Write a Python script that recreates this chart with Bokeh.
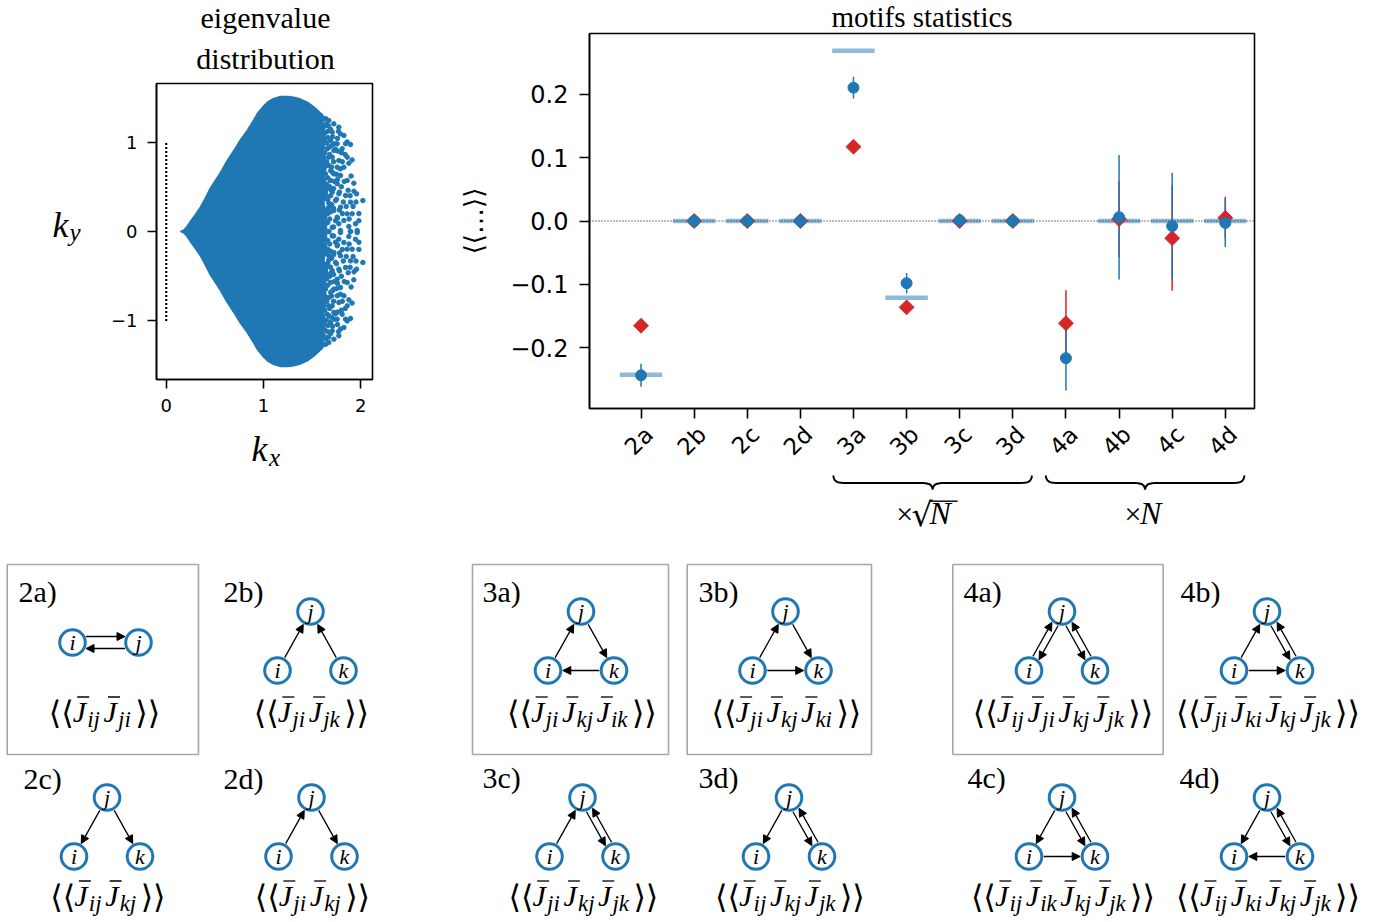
import math
import numpy as np
from bokeh.plotting import figure
from bokeh.models import (Range1d, FixedTicker, CustomJSTickFormatter, LinearAxis,
                          Arrow, NormalHead, ColumnDataSource)
from bokeh.embed import file_html
from bokeh.resources import INLINE
from bokeh.core.properties import value

BLUE = "#1f77b4"
RED = "#d62728"
LIGHT = "#8fbbd9"
GREY = "#a8a8a8"
SERIF = "Liberation Serif"
SANS = "DejaVu Sans"

# ---------------------------------------------------------------- eigenvalue data
# upper boundary of the dense part of the spectrum (lower half = complex conjugates)
envelope_x = [0.147, 0.175, 0.21, 0.25, 0.30, 0.353, 0.40, 0.456, 0.51, 0.558, 0.62, 0.695,
              0.76, 0.833, 0.89, 0.935, 0.99, 1.04, 1.10, 1.175, 1.25, 1.31, 1.38, 1.45,
              1.52, 1.58, 1.62, 1.60, 1.64, 1.61, 1.65, 1.62, 1.66, 1.62, 1.65, 1.63, 1.64]
envelope_y = [0.0, 0.012, 0.05, 0.115, 0.19, 0.275, 0.37, 0.49, 0.58, 0.66, 0.78, 0.905,
              1.02, 1.13, 1.23, 1.315, 1.39, 1.445, 1.485, 1.51, 1.51, 1.50, 1.48, 1.445,
              1.39, 1.33, 1.28, 1.15, 1.02, 0.88, 0.74, 0.60, 0.46, 0.32, 0.18, 0.06, 0.0]
# isolated eigenvalues in the sparse right part (upper half-plane)
sparse_x = [1.586, 1.671, 1.723, 1.774, 1.637, 1.706, 1.791, 1.551, 1.826, 1.517,
            1.603, 1.689, 1.757, 1.843, 1.894, 1.569, 1.654, 1.723, 1.808, 1.534,
            1.620, 1.706, 1.774, 1.860, 1.877, 1.586, 1.671, 1.757, 1.826, 1.551,
            1.637, 1.723, 1.791, 1.689, 1.860, 1.928, 1.586, 1.757, 1.534, 1.620,
            1.706, 1.774, 1.843, 1.956, 2.021, 1.654, 1.740, 1.894, 1.586, 1.671,
            1.723, 1.791, 1.860, 1.620, 1.911, 1.757, 1.826, 1.551, 1.637, 1.706,
            1.774, 1.877, 1.945, 1.963, 1.671, 1.791, 1.894,
            1.64, 1.69, 1.66, 1.70, 1.68, 1.65, 1.72, 1.69, 1.66, 1.73,
            1.68, 1.64, 1.70, 1.65, 1.74, 1.68, 1.63, 1.80, 1.82, 1.78,
            1.84, 1.80, 1.76, 1.81, 1.87, 1.90, 1.92, 1.98,
            1.58, 1.61, 1.57, 1.60, 1.63, 1.58, 1.61, 1.57, 1.62, 1.59,
            1.64, 1.57, 1.61, 1.58, 1.62, 1.57, 1.60, 1.66, 1.67, 1.69,
            1.72, 1.75, 1.70, 1.73, 1.67, 1.63, 1.67, 1.56, 1.62, 1.76,
            1.79, 1.83, 1.85, 1.89, 1.93, 1.88, 1.95, 1.98, 1.91, 1.86,
            1.64, 1.66, 1.71, 1.65, 1.74, 1.67, 1.71, 1.76, 1.65, 1.69,
            1.75, 1.66, 1.72, 1.69, 1.76, 1.66, 1.72, 1.78, 1.81, 1.77]
sparse_y = [1.296, 1.240, 1.203, 1.166, 1.184, 1.110, 1.091, 1.166, 1.073, 1.054,
            1.017, 1.017, 0.980, 0.980, 0.972, 0.942, 0.924, 0.905, 0.924, 0.868,
            0.831, 0.831, 0.793, 0.831, 0.764, 0.756, 0.737, 0.719, 0.719, 0.682,
            0.644, 0.644, 0.626, 0.570, 0.570, 0.540, 0.551, 0.533, 0.477, 0.458,
            0.440, 0.421, 0.402, 0.421, 0.346, 0.365, 0.346, 0.328, 0.309, 0.272,
            0.235, 0.272, 0.197, 0.179, 0.197, 0.160, 0.123, 0.123, 0.086, 0.048,
            0.086, 0.056, 0.086, 0.011, 0.0, 0.011, 0.0,
            1.26, 1.14, 1.05, 0.96, 0.86, 0.78, 0.78, 0.68, 0.60, 0.56,
            0.50, 0.41, 0.30, 0.24, 0.12, 0.14, 0.04, 0.50, 0.33, 0.24,
            0.86, 0.88, 1.04, 0.20, 0.46, 0.62, 0.28, 0.12,
            1.22, 1.15, 1.02, 0.93, 0.88, 0.80, 0.72, 0.64, 0.58, 0.50,
            0.47, 0.40, 0.36, 0.27, 0.22, 0.16, 0.08, 0.20, 0.32, 0.40,
            0.48, 0.64, 0.72, 0.98, 0.94, 1.10, 1.18, 1.30, 1.26, 0.90,
            0.70, 0.56, 0.28, 0.40, 0.45, 0.14, 0.33, 0.20, 0.80, 1.00,
            1.20, 1.12, 1.06, 0.99, 0.92, 0.83, 0.66, 0.58, 0.53, 0.47,
            0.36, 0.36, 0.26, 0.22, 0.15, 0.10, 0.05, 0.44, 0.78, 1.12]
guide_x = [0.0, 0.0]
guide_y = [-1.0, 1.0]
eig_xticks = [0, 1, 2]
eig_yticks = [-1, 0, 1]

# ---------------------------------------------------------------- motif data
motif_labels = ["2a", "2b", "2c", "2d", "3a", "3b", "3c", "3d", "4a", "4b", "4c", "4d"]
sim_mean = [-0.243, 0.0, 0.0, 0.0, 0.210, -0.098, 0.001, 0.0, -0.216, 0.006, -0.008, -0.003]
sim_err = [0.018, 0.003, 0.003, 0.003, 0.017, 0.016, 0.003, 0.003, 0.051, 0.098, 0.084, 0.038]
pred_mean = [-0.165, 0.0, 0.0, 0.0, 0.117, -0.136, 0.0, 0.0, -0.161, 0.003, -0.027, 0.005]
pred_err = [0.0, 0.0, 0.0, 0.0, 0.0, 0.0, 0.0, 0.0, 0.052, 0.06, 0.083, 0.033]
theory_val = [-0.242, 0.0, 0.0, 0.0, 0.268, -0.121, 0.0, 0.0, None, 0.0, 0.0, 0.0]
motif_yticks = [-0.2, -0.1, 0.0, 0.1, 0.2]
brace_groups = [(4, 7, "sqrtN"), (8, 11, "N")]

# ---------------------------------------------------------------- page geometry (px)
W, H = 1390, 922
EIG_BOX = dict(left=156, right=372, top=83, bottom=379)
MOT_BOX = dict(left=589, right=1254, top=33, bottom=408)
EIG_X = (-0.10, 2.12)
EIG_Y = (-1.654, 1.654)
MOT_X = (-0.97, 11.55)
MOT_Y = (-0.2953, 0.2953)
LABEL_SHIFT = 0.15


def x_range_for(lim, box):
    s = (box["right"] - box["left"]) / (lim[1] - lim[0])
    start = lim[0] - box["left"] / s
    return Range1d(start, start + W / s)


def y_range_for(lim, box):
    hb, ht = H - box["bottom"], H - box["top"]
    s = (ht - hb) / (lim[1] - lim[0])
    start = lim[0] - hb / s
    return Range1d(start, start + H / s)


p = figure(width=W, height=H, x_range=Range1d(0, W), y_range=Range1d(H, 0),
           x_axis_type=None, y_axis_type=None, output_backend="svg", toolbar_location=None,
           min_border_left=0, min_border_right=0, min_border_top=0, min_border_bottom=0,
           outline_line_color=None)
p.title.visible = False
p.extra_x_ranges = {"eigx": x_range_for(EIG_X, EIG_BOX), "motx": x_range_for(MOT_X, MOT_BOX),
                    "lab": x_range_for((MOT_X[0] - LABEL_SHIFT, MOT_X[1] - LABEL_SHIFT), MOT_BOX)}
p.extra_y_ranges = {"eigy": y_range_for(EIG_Y, EIG_BOX), "moty": y_range_for(MOT_Y, MOT_BOX)}


def style_axis(ax, size, tick_out, standoff):
    ax.major_tick_out = tick_out
    ax.major_tick_in = 0
    ax.major_tick_line_width = 1.6
    ax.major_tick_line_color = "black"
    ax.minor_tick_line_color = None
    ax.axis_line_width = 1.6
    ax.axis_line_color = "black"
    ax.major_label_text_font = SANS
    ax.major_label_text_font_size = size
    ax.major_label_text_color = "black"
    ax.major_label_standoff = standoff


def txt(x, y, s, size, font=SERIF, style="normal", align="center", **kw):
    p.text([x], [y], [s], text_font=value(font), text_font_style=style,
           text_font_size=value(size), text_align=align, text_baseline="middle",
           text_color="black", **kw)


# ================================================================= eigenvalue plot
E = dict(x_range_name="eigx", y_range_name="eigy")
poly_x = envelope_x + envelope_x[::-1]
poly_y = envelope_y + [-v for v in envelope_y[::-1]]
p.patch(poly_x, poly_y, fill_color=BLUE, line_color=BLUE, line_width=1.5, **E)
p.scatter(sparse_x + sparse_x, sparse_y + [-v for v in sparse_y], size=4.5,
          fill_color=BLUE, line_color=BLUE, **E)
p.line(guide_x, guide_y, line_color="black", line_width=2.2, line_dash="2 2", **E)
p.quad(left=[EIG_X[0]], right=[EIG_X[1]], bottom=[EIG_Y[0]], top=[EIG_Y[1]],
       fill_color=None, line_color="black", line_width=1.6, **E)

int_fmt = CustomJSTickFormatter(code="return tick < 0 ? '\u2212' + Math.abs(tick) : String(tick);")
ex = LinearAxis(x_range_name="eigx", fixed_location=EIG_BOX["bottom"], bounds=EIG_X,
                ticker=FixedTicker(ticks=eig_xticks), formatter=int_fmt)
style_axis(ex, "18px", 9, 10)
p.add_layout(ex, "below")
ey = LinearAxis(y_range_name="eigy", fixed_location=EIG_BOX["left"], bounds=EIG_Y,
                ticker=FixedTicker(ticks=eig_yticks), formatter=int_fmt)
style_axis(ey, "18px", 9, 10)
p.add_layout(ey, "left")

eig_cx = (EIG_BOX["left"] + EIG_BOX["right"]) / 2 + 1
txt(eig_cx, 17, "eigenvalue", "30px")
txt(eig_cx, 58, "distribution", "30px")
txt(52, 224.5, "k", "36px", style="italic", align="left")
txt(69, 231.5, "y", "25px", style="italic", align="left")
txt(251, 448, "k", "36px", style="italic", align="left")
txt(268.5, 456.5, "x", "25px", style="italic", align="left")

# ================================================================= motif statistics plot
M = dict(x_range_name="motx", y_range_name="moty")
idx = list(range(len(motif_labels)))
th_i = [i for i, v in enumerate(theory_val) if v is not None]
th_v = [theory_val[i] for i in th_i]
p.segment(x0=[i - 0.4 for i in th_i], x1=[i + 0.4 for i in th_i], y0=th_v, y1=th_v,
          line_color=LIGHT, line_width=4.5, **M)
p.line([MOT_X[0], MOT_X[1]], [0, 0], line_color="black", line_width=1.2, line_dash="1 2", **M)
p.segment(x0=idx, x1=idx, y0=[m - e for m, e in zip(pred_mean, pred_err)],
          y1=[m + e for m, e in zip(pred_mean, pred_err)], line_color=RED, line_width=1.5, **M)
p.segment(x0=idx, x1=idx, y0=[m - e for m, e in zip(sim_mean, sim_err)],
          y1=[m + e for m, e in zip(sim_mean, sim_err)], line_color=BLUE, line_width=1.5, **M)
p.scatter(idx, pred_mean, marker="square", angle=math.pi / 4, size=10.5,
          fill_color=RED, line_color=RED, **M)
p.scatter(idx, sim_mean, marker="circle", size=11, fill_color=BLUE, line_color=BLUE, **M)
p.quad(left=[MOT_X[0]], right=[MOT_X[1]], bottom=[MOT_Y[0]], top=[MOT_Y[1]],
       fill_color=None, line_color="black", line_width=1.6, **M)

my = LinearAxis(y_range_name="moty", fixed_location=MOT_BOX["left"], bounds=MOT_Y,
                ticker=FixedTicker(ticks=motif_yticks),
                formatter=CustomJSTickFormatter(
                    code="return (tick < -1e-9 ? '\u2212' : '') + Math.abs(tick).toFixed(1);"))
style_axis(my, "24px", 10, 11)
my.axis_label = "\u27e8\u27e8\u2026\u27e9\u27e9"
my.axis_label_text_font = SANS
my.axis_label_text_font_style = "normal"
my.axis_label_text_font_size = "26px"
my.axis_label_text_color = "black"
my.axis_label_standoff = 18
p.add_layout(my, "left")

mx = LinearAxis(x_range_name="motx", fixed_location=MOT_BOX["bottom"], bounds=MOT_X,
                ticker=FixedTicker(ticks=idx), formatter=CustomJSTickFormatter(code="return '';"))
style_axis(mx, "0px", 10, 0)
p.add_layout(mx, "below")
lab_ax = LinearAxis(x_range_name="lab", fixed_location=MOT_BOX["bottom"] + 10,
                    ticker=FixedTicker(ticks=idx),
                    major_label_overrides={i: l for i, l in zip(idx, motif_labels)})
style_axis(lab_ax, "23px", 0, 12)
lab_ax.axis_line_color = None
lab_ax.major_tick_line_color = None
lab_ax.major_label_orientation = math.pi / 4
p.add_layout(lab_ax, "below")

txt((MOT_BOX["left"] + MOT_BOX["right"]) / 2, 16, "motifs statistics", "29px")


def motif_px(v):
    return MOT_BOX["left"] + (v - MOT_X[0]) / (MOT_X[1] - MOT_X[0]) * (MOT_BOX["right"] - MOT_BOX["left"])


def cubic(p0, p1, p2, p3, n=16):
    t = np.linspace(0, 1, n)[:, None]
    pts = ((1 - t) ** 3) * np.array(p0) + 3 * ((1 - t) ** 2) * t * np.array(p1) \
        + 3 * (1 - t) * t ** 2 * np.array(p2) + t ** 3 * np.array(p3)
    return list(pts[:, 0]), list(pts[:, 1])


# braces under the grouped motifs
for a, b, kind in brace_groups:
    x0, x1 = motif_px(a - 0.38), motif_px(b + 0.36)
    xc = (x0 + x1) / 2
    yt, ym, yp = 475.0, 482.5, 489.0
    xs, ys = [], []
    for seg in [((x0, yt), (x0 + 1, ym), (x0 + 5, ym), (x0 + 16, ym)),
                ((xc - 16, ym), (xc - 5, ym), (xc - 1, ym), (xc, yp))]:
        sx, sy = cubic(*seg)
        xs += sx
        ys += sy
    xs2 = [2 * xc - v for v in xs[::-1]]
    ys2 = ys[::-1]
    p.line(xs + xs2, ys + ys2, line_color="black", line_width=2.0)
    if kind == "sqrtN":
        txt(xc - 28, 512.5, "\u00d7", "30px")
        txt(xc - 21, 514, "\u221a", "33px", font=SANS, align="left")
        txt(xc - 3, 512.5, "N", "32px", style="italic", align="left")
        p.segment([xc - 2.5], [500.7], [xc + 25], [500.7], line_color="black", line_width=1.4)
    else:
        txt(xc - 12, 512.5, "\u00d7", "30px")
        txt(xc - 5, 512.5, "N", "32px", style="italic", align="left")

# ================================================================= motif diagrams
boxes = {"2a": (6.7, 198.0), "3a": (472.0, 668.0), "3b": (686.7, 871.0), "4a": (952.3, 1162.7)}
p.quad(left=[v[0] for v in boxes.values()], right=[v[1] for v in boxes.values()],
       top=[564.0] * 4, bottom=[754.0] * 4, fill_color=None, line_color=GREY, line_width=1.6)

panel_tags = [("2a)", 18, 591), ("2b)", 223, 591), ("2c)", 23, 778), ("2d)", 223, 778),
              ("3a)", 482, 591), ("3b)", 698, 591), ("3c)", 482, 777), ("3d)", 698, 777),
              ("4a)", 963, 591), ("4b)", 1180, 591), ("4c)", 967, 777), ("4d)", 1179, 777)]
p.text([t[1] for t in panel_tags], [t[2] for t in panel_tags], [t[0] for t in panel_tags],
       text_font=value(SERIF), text_font_size=value("30px"), text_align="left",
       text_baseline="middle", text_color="black")

ROW1, ROW2 = 640.5, 826.5
motif_centres = {"2b": (310.0, ROW1), "2c": (106.5, ROW2), "2d": (311.0, ROW2),
                 "3a": (580.5, ROW1), "3b": (785.0, ROW1), "3c": (582.0, ROW2), "3d": (788.5, ROW2),
                 "4a": (1061.5, ROW1), "4b": (1266.5, ROW1), "4c": (1061.5, ROW2), "4d": (1266.5, ROW2)}
motif_edges = {
    "2a": [("i", "j", -6.0), ("j", "i", -6.0)],
    "2b": [("i", "j", 0), ("k", "j", 0)],
    "2c": [("j", "i", 0), ("j", "k", 0)],
    "2d": [("i", "j", 0), ("j", "k", 0)],
    "3a": [("i", "j", 0), ("j", "k", 0), ("k", "i", 0)],
    "3b": [("i", "j", 0), ("j", "k", 0), ("i", "k", 0)],
    "3c": [("i", "j", 0), ("j", "k", 3.5), ("k", "j", 3.5)],
    "3d": [("j", "i", 0), ("j", "k", 3.5), ("k", "j", 3.5)],
    "4a": [("i", "j", -3.5), ("j", "i", -3.5), ("j", "k", 3.5), ("k", "j", 3.5)],
    "4b": [("i", "j", 0), ("j", "k", 3.5), ("k", "j", 3.5), ("i", "k", 0)],
    "4c": [("j", "i", 0), ("j", "k", 3.5), ("k", "j", 3.5), ("i", "k", 0)],
    "4d": [("j", "i", 0), ("j", "k", 3.5), ("k", "j", 3.5), ("k", "i", 0)],
}
motif_formula = {
    "2a": ["ij", "ji"], "2b": ["ji", "jk"], "2c": ["ij", "kj"], "2d": ["ji", "kj"],
    "3a": ["ji", "kj", "ik"], "3b": ["ji", "kj", "ki"], "3c": ["ji", "kj", "jk"], "3d": ["ij", "kj", "jk"],
    "4a": ["ij", "ji", "kj", "jk"], "4b": ["ji", "ki", "kj", "jk"],
    "4c": ["ij", "ik", "kj", "jk"], "4d": ["ij", "ki", "kj", "jk"],
}


def node_positions(name):
    if name == "2a":
        return {"i": (72.0, 642.0), "j": (138.0, 642.0)}
    cx, cy = motif_centres[name]
    return {"i": (cx - 33.0, cy + 29.5), "j": (cx, cy - 29.5), "k": (cx + 33.0, cy + 29.5)}


R_NODE, R_EDGE = 12.8, 14.8
ax0, ay0, ax1, ay1 = [], [], [], []
nx_, ny_, nt_ = [], [], []
for name, edges in motif_edges.items():
    pos = node_positions(name)
    for key, (px, py) in pos.items():
        nx_.append(px)
        ny_.append(py)
        nt_.append(key)
    for a, b, s in edges:
        (xa, ya), (xb, yb) = pos[a], pos[b]
        dx, dy = xb - xa, yb - ya
        L = math.hypot(dx, dy)
        ux, uy = dx / L, dy / L
        nx, ny = -uy, ux
        c = math.sqrt(R_EDGE ** 2 - s ** 2)
        ax0.append(xa + ux * c + nx * s)
        ay0.append(ya + uy * c + ny * s)
        ax1.append(xb - ux * c + nx * s)
        ay1.append(yb - uy * c + ny * s)

p.add_layout(Arrow(source=ColumnDataSource(dict(x0=ax0, y0=ay0, x1=ax1, y1=ay1)),
                   x_start="x0", y_start="y0", x_end="x1", y_end="y1",
                   line_color="black", line_width=1.3,
                   end=NormalHead(size=8, fill_color="black", line_color="black", line_width=1)))
p.circle(nx_, ny_, radius=R_NODE, fill_color="white", line_color=BLUE, line_width=3)
p.text(nx_, ny_, nt_, text_font=value(SERIF), text_font_style="italic",
       text_font_size=value("22px"), text_align="center", text_baseline="middle",
       text_color="black")

# formulas  <<J_ab J_cd ...>>
SUB_F = 23
BR2_W, J_W = 24.0, 14.5
SUB_ADV = {"i": 0.30, "j": 0.30, "k": 0.46}
pieces = {"br": [], "J": [], "sub": []}
bars = []


def add_formula(cx, base, subs):
    sub_ws = [sum(SUB_ADV[c] for c in s) * SUB_F + 2.5 for s in subs]
    total = 2 * BR2_W + sum(J_W + w for w in sub_ws)
    x = cx - total / 2
    pieces["br"].append((x, base + 1.5, "\u27e8\u27e8"))
    x += BR2_W
    for s, w in zip(subs, sub_ws):
        pieces["J"].append((x, base, "J"))
        bars.append((x + 4.5, x + 16.5, base - 14.5))
        x += J_W
        pieces["sub"].append((x, base + 8, s))
        x += w
    pieces["br"].append((x + 1, base + 1.5, "\u27e9\u27e9"))


for name, subs in motif_formula.items():
    if name == "2a":
        cx, base = 103.0, 711.0
    else:
        cx = motif_centres[name][0]
        base = 711.0 if motif_centres[name][1] == ROW1 else 895.0
    add_formula(cx, base, subs)

for key, font, style, size in [("br", SANS, "normal", "32px"), ("J", SERIF, "italic", "30px"),
                               ("sub", SERIF, "italic", "23px")]:
    pc = pieces[key]
    p.text([q[0] for q in pc], [q[1] for q in pc], [q[2] for q in pc], text_font=value(font),
           text_font_style=style, text_font_size=value(size), text_align="left",
           text_baseline="middle", text_color="black")
p.segment([b[0] for b in bars], [b[2] for b in bars], [b[1] for b in bars], [b[2] for b in bars],
          line_color="black", line_width=1.3)

open("out.html", "w").write(file_html(p, INLINE, title="motifs"))
